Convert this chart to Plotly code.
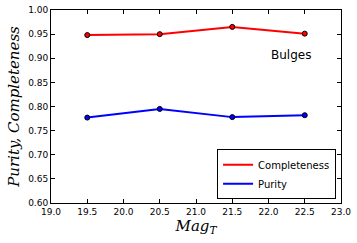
import plotly.graph_objects as go

mag = [19.5, 20.5, 21.5, 22.5]
completeness = [0.948, 0.950, 0.965, 0.951]
purity = [0.777, 0.795, 0.778, 0.782]
x_ticks = [19.0, 19.5, 20.0, 20.5, 21.0, 21.5, 22.0, 22.5, 23.0]
y_ticks = [0.60, 0.65, 0.70, 0.75, 0.80, 0.85, 0.90, 0.95, 1.00]

fig = go.Figure()
for name, vals, col in [("Completeness", completeness, "#ff0000"), ("Purity", purity, "#0000ff")]:
    fig.add_trace(go.Scatter(x=mag, y=vals, mode="lines", name=name,
                             line=dict(color=col, width=2)))
for name, vals, col in [("Completeness", completeness, "#ff0000"), ("Purity", purity, "#0000ff")]:
    fig.add_trace(go.Scatter(x=mag, y=vals, mode="markers", name=name, showlegend=False,
                             marker=dict(color=col, size=5, line=dict(color="black", width=1))))

axis_common = dict(showline=True, linecolor="black", linewidth=1, mirror="ticks",
                   ticks="inside", ticklen=4, tickcolor="black", showgrid=False, zeroline=False,
                   ticklabeloverflow="allow",
                   tickfont=dict(family="DejaVu Sans", size=9, color="black"))
fig.update_xaxes(range=[19.0, 23.0], tickvals=x_ticks, ticktext=[f"{v:.1f}" for v in x_ticks],
                 title=dict(text="<i>Mag</i><sub><i>T</i></sub>", standoff=4,
                            font=dict(family="DejaVu Serif", size=15, color="black")),
                 **axis_common)
fig.update_yaxes(range=[0.60, 1.00], tickvals=y_ticks, ticktext=[f"{v:.2f}" for v in y_ticks],
                 title=dict(text="<i>Purity, Completeness</i>", standoff=4,
                            font=dict(family="DejaVu Serif", size=15, color="black")),
                 **axis_common)
fig.add_annotation(x=22.0, y=0.907, xref="x", yref="y", text="Bulges", showarrow=False,
                   xanchor="left", yanchor="middle",
                   font=dict(family="DejaVu Sans", size=12, color="black"))
fig.update_layout(width=357, height=243, plot_bgcolor="white", paper_bgcolor="white",
                  margin=dict(l=51, r=16, t=10, b=40, autoexpand=False),
                  showlegend=True,
                  legend=dict(x=0.983, y=0.02, xanchor="right", yanchor="bottom",
                              bordercolor="black", borderwidth=1, bgcolor="white",
                              font=dict(family="DejaVu Sans", size=10, color="black"),
                              itemwidth=30, tracegroupgap=0))
fig.write_html("out.html", config={"displayModeBar": False},
               post_script="document.body.style.margin='0';document.body.style.padding='0';")
